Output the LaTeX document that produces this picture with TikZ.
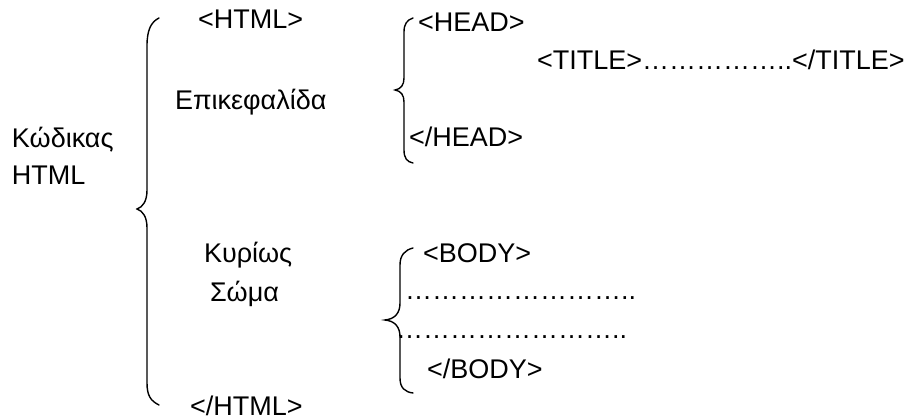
\documentclass[tikz,border=0pt]{standalone}
\usepackage{fontspec}
\setmainfont{Liberation Sans}
\begin{document}
\begin{tikzpicture}[x=1pt,y=-1pt,
  txt/.style={anchor=base west,inner sep=0pt,outer sep=0pt,font=\fontsize{27}{31}\selectfont},
  brace/.style={line width=1.4pt,black,line cap=round}]
\useasboundingbox (0,0) rectangle (907,419);
% texts
\node[txt] (kod) at (12,148) {Κώδικας};
\node[txt] (html) at (12,185) {HTML};
\node[txt] (ohtml) at (198,29) {<HTML>};
\node[txt] (epik) at (175,110) {Επικεφαλίδα};
\node[txt] (kyr) at (204,263) {Κυρίως};
\node[txt] (soma) at (210,302) {Σώμα};
\node[txt] (chtml) at (190,415) {</HTML>};
\node[txt] (ohead) at (418,32) {<HEAD>};
\node[txt] (title) at (537,70) {<TITLE>……………..</TITLE>};
\node[txt] (chead) at (409,147) {</HEAD>};
\node[txt] (obody) at (423,263) {<BODY>};
\node[txt] (dots1) at (405,300) {……………………..};
\node[txt] (dots2) at (396,338) {……………………..};
\node[txt] (cbody) at (427,378) {</BODY>};
% big brace
\draw[brace] (159,18) .. controls (151,22) and (147,30) .. (147,46)
  -- (147,190) .. controls (147,201) and (143,207) .. (137,209)
  .. controls (143,211) and (147,217) .. (147,228)
  -- (147,383) .. controls (147,396) and (151,401) .. (159,405);
% head brace
\draw[brace] (413,18) .. controls (407,20) and (404,24) .. (404,32)
  -- (404,78) .. controls (404,85) and (401,89) .. (395,90)
  .. controls (401,91) and (404,95) .. (404,102)
  -- (404,150) .. controls (404,158) and (407,162) .. (413,163);
% body brace
\draw[brace] (413,248) .. controls (405,250) and (400,255) .. (400,265)
  -- (400,303) .. controls (400,313) and (395,319) .. (385,320)
  .. controls (395,321) and (400,327) .. (400,337)
  -- (400,378) .. controls (400,388) and (405,392) .. (413,393);
\end{tikzpicture}
\end{document}
